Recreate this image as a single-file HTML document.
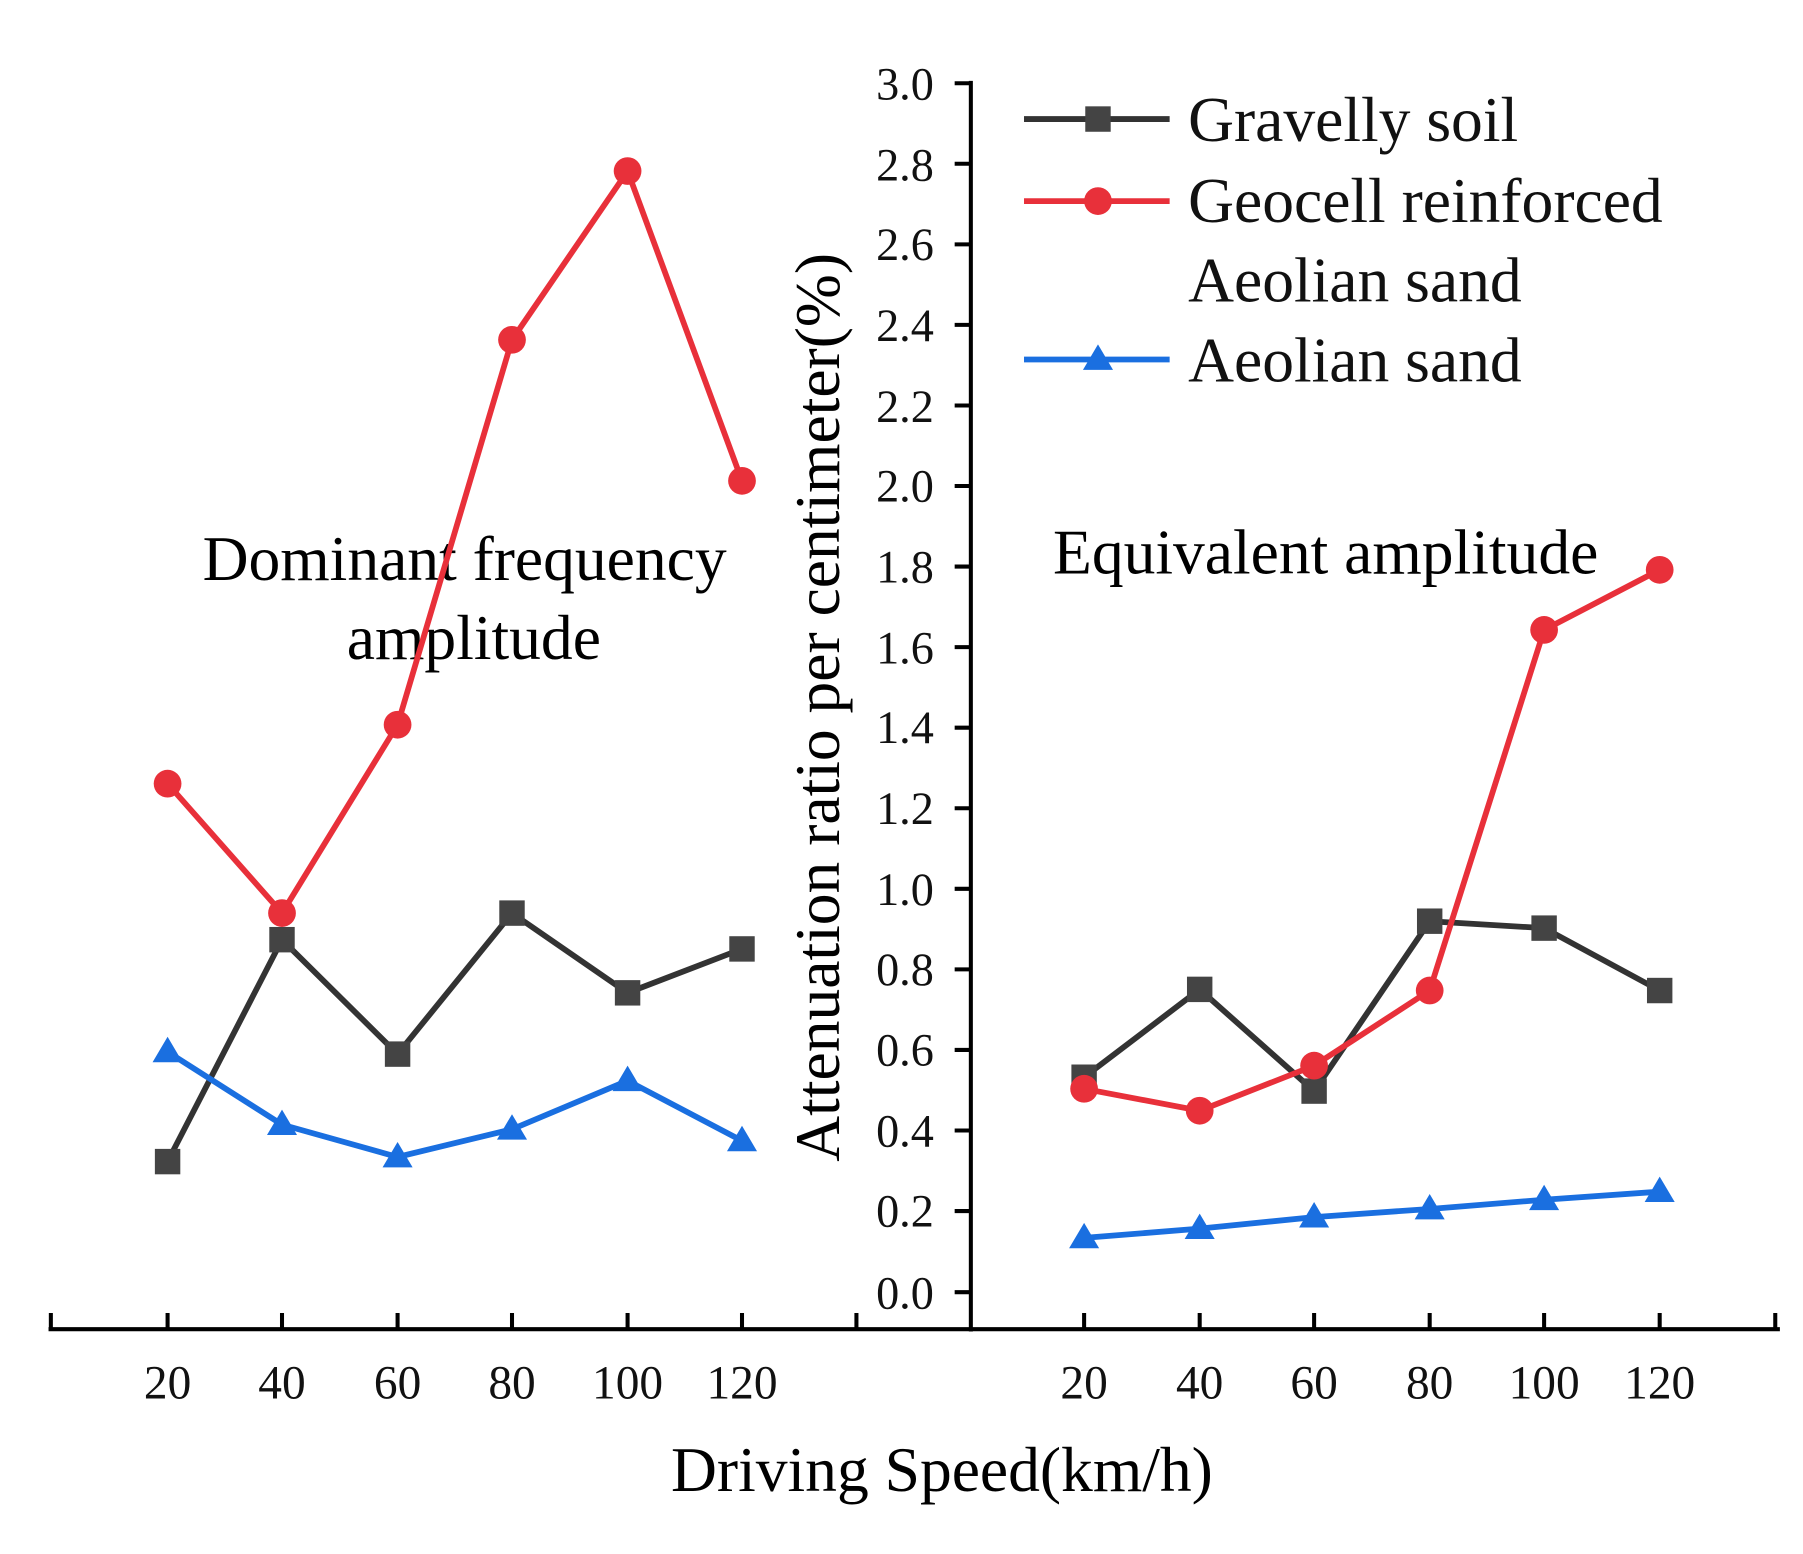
<!DOCTYPE html>
<html><head><style>html,body{margin:0;padding:0;background:#fff}svg{display:block}</style></head><body>
<svg width="1803" height="1554" viewBox="0 0 1560 1344.5" preserveAspectRatio="none" xmlns="http://www.w3.org/2000/svg" font-family="Liberation Serif, serif">
<g stroke="#000" stroke-width="3.5" fill="none">
<line x1="840" y1="70" x2="840" y2="1152"/>
<line x1="42" y1="1150" x2="1540" y2="1150"/>
<path d="M840 72h-14M840 141.7h-14M840 211.4h-14M840 281.1h-14M840 350.8h-14M840 420.5h-14M840 490.2h-14M840 559.9h-14M840 629.6h-14M840 699.3h-14M840 769h-14M840 838.7h-14M840 908.4h-14M840 978.1h-14M840 1047.8h-14M840 1118h-14"/>
<path d="M44 1150v-14M145 1150v-14M244 1150v-14M344 1150v-14M443 1150v-14M543 1150v-14M642 1150v-14M741 1150v-14M938 1150v-14M1038 1150v-14M1137 1150v-14M1237 1150v-14M1336 1150v-14M1436 1150v-14M1536 1150v-14"/>
</g>
<g font-size="40" text-anchor="end" fill="#111">
<text x="808" y="86">3.0</text><text x="808" y="156">2.8</text><text x="808" y="225">2.6</text><text x="808" y="295">2.4</text><text x="808" y="365">2.2</text><text x="808" y="434">2.0</text><text x="808" y="504">1.8</text><text x="808" y="574">1.6</text><text x="808" y="643">1.4</text><text x="808" y="713">1.2</text><text x="808" y="783">1.0</text><text x="808" y="852">0.8</text><text x="808" y="922">0.6</text><text x="808" y="992">0.4</text><text x="808" y="1061">0.2</text><text x="808" y="1132">0.0</text>
</g>
<g font-size="41" text-anchor="middle" fill="#111">
<text x="145" y="1210">20</text><text x="244" y="1210">40</text><text x="344" y="1210">60</text><text x="443" y="1210">80</text><text x="543" y="1210">100</text><text x="642" y="1210">120</text>
<text x="938" y="1210">20</text><text x="1038" y="1210">40</text><text x="1137" y="1210">60</text><text x="1237" y="1210">80</text><text x="1336" y="1210">100</text><text x="1436" y="1210">120</text>
</g>
<text x="815" y="1290" font-size="55" text-anchor="middle">Driving Speed(km/h)</text>
<text transform="translate(726,612) rotate(-90)" font-size="55" text-anchor="middle">Attenuation ratio per centimeter(%)</text>
<text x="402" y="502" font-size="55" text-anchor="middle">Dominant frequency</text>
<text x="410" y="570" font-size="55" text-anchor="middle">amplitude</text>
<text x="1147" y="496" font-size="55" text-anchor="middle">Equivalent amplitude</text>
<g stroke-width="5" fill="none">
<polyline stroke="#333" points="145,1005 244,813 344,912 443,790 543,859 642,821"/>
<polyline stroke="#e8303a" points="145,678 244,790 344,627 443,294 543,148 642,416"/>
<polyline stroke="#1a6fe0" points="145,910 244,973 344,1001 443,977 543,935 642,987"/>
<polyline stroke="#333" points="938,932 1038,856 1137,944 1237,797 1336,803 1436,857"/>
<polyline stroke="#e8303a" points="938,942 1038,961 1137,922 1237,857 1336,545 1436,493"/>
<polyline stroke="#1a6fe0" points="938,1071 1038,1063 1137,1053 1237,1046 1336,1038 1436,1031"/>
<line stroke="#333" x1="886" y1="103" x2="1012" y2="103"/>
<line stroke="#e8303a" x1="886" y1="174" x2="1012" y2="174"/>
<line stroke="#1a6fe0" x1="886" y1="311" x2="1012" y2="311"/>
</g>
<g fill="#444">
<rect x="134" y="994" width="22" height="22"/><rect x="233" y="802" width="22" height="22"/><rect x="333" y="901" width="22" height="22"/><rect x="432" y="779" width="22" height="22"/><rect x="532" y="848" width="22" height="22"/><rect x="631" y="810" width="22" height="22"/>
<rect x="927" y="921" width="22" height="22"/><rect x="1027" y="845" width="22" height="22"/><rect x="1126" y="933" width="22" height="22"/><rect x="1226" y="786" width="22" height="22"/><rect x="1325" y="792" width="22" height="22"/><rect x="1425" y="846" width="22" height="22"/>
<rect x="939" y="92" width="22" height="22"/>
</g>
<g fill="#e8303a">
<circle cx="145" cy="678" r="12"/><circle cx="244" cy="790" r="12"/><circle cx="344" cy="627" r="12"/><circle cx="443" cy="294" r="12"/><circle cx="543" cy="148" r="12"/><circle cx="642" cy="416" r="12"/>
<circle cx="938" cy="942" r="12"/><circle cx="1038" cy="961" r="12"/><circle cx="1137" cy="922" r="12"/><circle cx="1237" cy="857" r="12"/><circle cx="1336" cy="545" r="12"/><circle cx="1436" cy="493" r="12"/>
<circle cx="950" cy="174" r="12"/>
</g>
<g fill="#1a6fe0">
<path d="M145 897l13 22h-26zM244 960l13 22h-26zM344 988l13 22h-26zM443 964l13 22h-26zM543 922l13 22h-26zM642 974l13 22h-26z"/>
<path d="M938 1058l13 22h-26zM1038 1050l13 22h-26zM1137 1040l13 22h-26zM1237 1033l13 22h-26zM1336 1025l13 22h-26zM1436 1018l13 22h-26z"/>
<path d="M950 298l13 22h-26z"/>
</g>
<g font-size="55" fill="#111">
<text x="1028" y="122">Gravelly soil</text>
<text x="1028" y="192">Geocell reinforced</text>
<text x="1028" y="261">Aeolian sand</text>
<text x="1028" y="330">Aeolian sand</text>
</g>
</svg>
</body></html>
